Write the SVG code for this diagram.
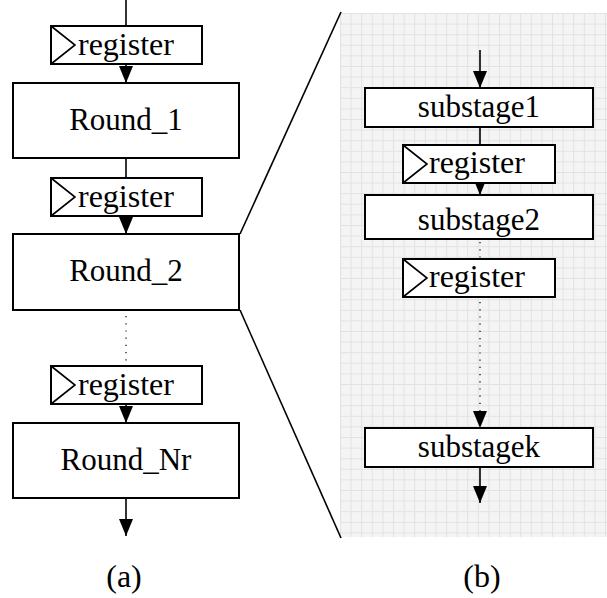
<svg xmlns="http://www.w3.org/2000/svg" width="607" height="598" viewBox="0 0 607 598">
<defs>
<pattern id="grid" x="340" y="13" width="10.6" height="10.6" patternUnits="userSpaceOnUse">
<rect width="10.6" height="10.6" fill="#f4f4f4"/>
<path d="M0 0.5H10.6M0.5 0V10.6" stroke="#e2e2e2" stroke-width="1" fill="none"/>
</pattern>
<marker id="arr" markerWidth="17" markerHeight="14" refX="17" refY="7" orient="auto" markerUnits="userSpaceOnUse" viewBox="0 0 17 14">
<path d="M0 0L17 7L0 14Z" fill="#000"/>
</marker>
</defs>
<style>
.box{fill:#fff;stroke:#000;stroke-width:2}
.ln{stroke:#000;stroke-width:1.6;fill:none}
.dot{stroke:#000;stroke-width:1.2;stroke-dasharray:1.2 6;fill:none}
.tri{stroke:#000;stroke-width:1.6;fill:none}
text{font-family:"Liberation Serif","Times New Roman",serif;fill:#000}
.t{font-size:31px;text-anchor:middle}
.r{font-size:32px}
.lab{font-size:32px;text-anchor:middle}
</style>
<rect x="340" y="13" width="267" height="524" fill="url(#grid)"/>
<g id="zoom-lines">
<line x1="240" y1="234" x2="341" y2="12" class="ln"/>
<line x1="240" y1="310" x2="341" y2="538" class="ln"/>
</g>
<g id="connectors">
<line x1="126" y1="0" x2="126" y2="26" class="ln"/>
<line x1="126" y1="64" x2="126" y2="83" class="ln" marker-end="url(#arr)"/>
<line x1="126" y1="158" x2="126" y2="178" class="ln"/>
<line x1="126" y1="216" x2="126" y2="234" class="ln" marker-end="url(#arr)"/>
<line x1="126" y1="316" x2="126" y2="362" class="dot"/>
<line x1="126" y1="404" x2="126" y2="423" class="ln" marker-end="url(#arr)"/>
<line x1="126" y1="498" x2="126" y2="536" class="ln" marker-end="url(#arr)"/>
<line x1="480" y1="50" x2="480" y2="88" class="ln" marker-end="url(#arr)"/>
<line x1="480" y1="127" x2="480" y2="145" class="ln"/>
<line x1="480" y1="183" x2="480" y2="195" class="ln" marker-end="url(#arr)"/>
<line x1="480" y1="242" x2="480" y2="258" class="dot"/>
<line x1="480" y1="302" x2="480" y2="412" class="dot"/>
<path d="M480 400V428" fill="none" stroke="none" marker-end="url(#arr)"/>
<line x1="480" y1="467" x2="480" y2="503" class="ln" marker-end="url(#arr)"/>
</g>
<g id="reg-a1">
<rect x="51" y="26" width="151" height="38" class="box"/>
<path d="M51 26L75 45L51 64" class="tri"/>
<text x="78" y="55" class="r">register</text>
</g>
<g id="round1">
<rect x="13" y="83" width="226" height="75" class="box"/>
<text x="126" y="130" class="t">Round_1</text>
</g>
<g id="reg-a2">
<rect x="51" y="178" width="151" height="38" class="box"/>
<path d="M51 178L75 197L51 216" class="tri"/>
<text x="78" y="207" class="r">register</text>
</g>
<g id="round2">
<rect x="13" y="234" width="226" height="76" class="box"/>
<text x="126" y="281" class="t">Round_2</text>
</g>
<g id="reg-a3">
<rect x="51" y="366" width="151" height="38" class="box"/>
<path d="M51 366L75 385L51 404" class="tri"/>
<text x="78" y="395" class="r">register</text>
</g>
<g id="roundNr">
<rect x="13" y="423" width="226" height="75" class="box"/>
<text x="126" y="470" class="t">Round_Nr</text>
</g>
<g id="substage1">
<rect x="365" y="88" width="228" height="39" class="box"/>
<text x="479" y="117" class="t">substage1</text>
</g>
<g id="reg-b1">
<rect x="403" y="145" width="152" height="38" class="box"/>
<path d="M403 145L427 164L403 183" class="tri"/>
<text x="429" y="173" class="r">register</text>
</g>
<g id="substage2">
<rect x="365" y="195" width="228" height="44" class="box"/>
<text x="479" y="230" class="t">substage2</text>
</g>
<g id="reg-b2">
<rect x="403" y="259" width="152" height="38" class="box"/>
<path d="M403 259L427 278L403 297" class="tri"/>
<text x="429" y="287" class="r">register</text>
</g>
<g id="substagek">
<rect x="365" y="428" width="228" height="39" class="box"/>
<text x="479" y="457" class="t">substagek</text>
</g>
<g id="labels">
<text x="124" y="587" class="lab">(a)</text>
<text x="482" y="587" class="lab">(b)</text>
</g>
</svg>
